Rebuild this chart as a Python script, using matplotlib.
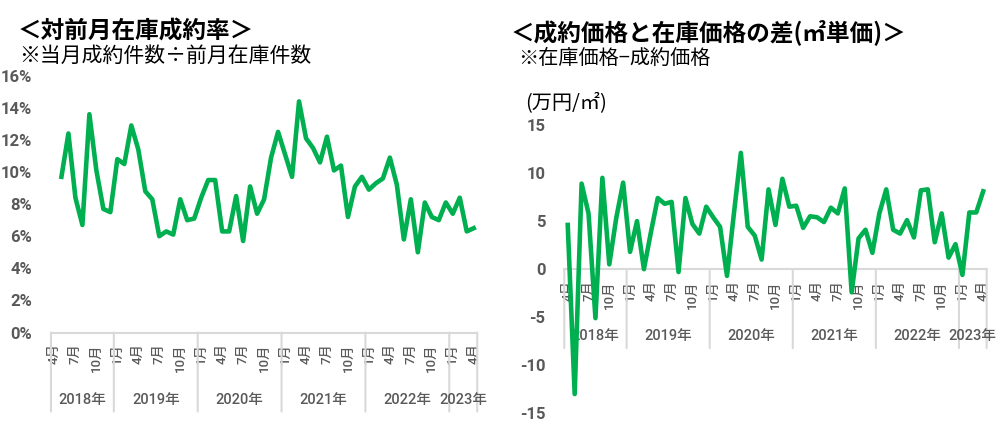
import numpy as np
import matplotlib.pyplot as plt

plt.rcParams['font.family'] = ['Noto Sans CJK JP', 'DejaVu Sans']

# categories: 2018-04 .. 2023-04
year_names = ['2018年', '2019年', '2020年', '2021年', '2022年', '2023年']
year_first_month = [4, 1, 1, 1, 1, 1]
year_months = [9, 12, 12, 12, 12, 4]

# 対前月在庫成約率 (%), 2018-04 has no previous month
ratio = [np.nan,
         9.7, 12.4, 8.4, 6.7, 13.6, 10.1, 7.7, 7.5, 10.8, 10.5,
         12.9, 11.4, 8.8, 8.3, 6.0, 6.3, 6.1, 8.3, 7.0, 7.1,
         8.4, 9.5, 9.5, 6.3, 6.3, 8.5, 5.7, 9.1, 7.4, 8.3,
         10.9, 12.5, 11.1, 9.7, 14.4, 12.1, 11.5, 10.6, 12.2, 10.1,
         10.4, 7.2, 9.1, 9.7, 8.9, 9.3, 9.6, 10.9, 9.2, 5.8,
         8.3, 5.0, 8.1, 7.2, 7.0, 8.1, 7.4, 8.4, 6.3, 6.5]

# 在庫価格 - 成約価格 (万円/㎡)
diff = [4.6, -13.0, 8.9, 5.8, -5.1, 9.5, 0.5, 5.3, 9.0, 1.8,
        5.0, 0.0, 3.8, 7.4, 6.8, 7.0, -0.3, 7.4, 4.7, 3.7,
        6.5, 5.4, 4.4, -0.7, 5.8, 12.1, 4.4, 3.5, 1.0, 8.3,
        4.6, 9.4, 6.5, 6.6, 4.3, 5.5, 5.4, 4.9, 6.4, 5.8,
        8.4, -2.4, 3.2, 4.1, 1.7, 5.8, 8.3, 4.1, 3.7, 5.1,
        3.3, 8.2, 8.3, 2.8, 5.8, 1.2, 2.6, -0.6, 5.9, 5.9,
        8.1]

left_ticks = [0, 2, 4, 6, 8, 10, 12, 14, 16]
left_ticklabels = ['0%', '2%', '4%', '6%', '8%', '10%', '12%', '14%', '16%']
right_ticks = [-15, -10, -5, 0, 5, 10, 15]
right_ticklabels = ['-15', '-10', '-5', '0', '5', '10', '15']

GREEN = '#00B050'
GRAY = '#595959'
AXIS = '#D9D9D9'
NUMFONT = ['Roboto', 'Noto Sans CJK JP', 'DejaVu Sans']

month_labels = []
for first, n in zip(year_first_month, year_months):
    for m in range(first, first + n):
        month_labels.append(f'{m}月')
x = np.arange(len(month_labels))


def category_axis(ax, base):
    ax.axhline(base, color=AXIS, lw=1.5, zorder=1, clip_on=False)
    edges = [-0.5]
    for n in year_months:
        edges.append(edges[-1] + n)
    for e in edges:
        ax.annotate('', xy=(e, base), xytext=(0, -79), textcoords='offset pixels',
                    annotation_clip=False,
                    arrowprops=dict(arrowstyle='-', color=AXIS, lw=1.5,
                                    shrinkA=0, shrinkB=0))
    for k in range(0, len(month_labels), 3):
        ax.annotate(month_labels[k], xy=(k, base), xytext=(0, -11),
                    textcoords='offset pixels', rotation=90, ha='center', va='top',
                    color=GRAY, fontsize=9.5, fontweight='medium', family=NUMFONT,
                    zorder=1, annotation_clip=False)
    for i, name in enumerate(year_names):
        c = (edges[i] + edges[i + 1]) / 2
        ax.annotate(name, xy=(c, base), xytext=(0, -67), textcoords='offset pixels',
                    ha='center', va='center', color=GRAY, fontsize=10.5,
                    fontweight='medium', family=NUMFONT, annotation_clip=False)


def style(ax, ticks, labels, lo, hi):
    ax.set_xlim(-0.5, len(month_labels) - 0.5)
    ax.set_ylim(lo, hi)
    ax.set_xticks([])
    ax.set_yticks(ticks)
    ax.set_yticklabels(labels)
    ax.tick_params(axis='y', length=0, pad=13.5, labelcolor=GRAY, labelsize=12)
    for lbl in ax.get_yticklabels():
        lbl.set_fontfamily(NUMFONT)
        lbl.set_fontweight('bold')
    for s in ax.spines.values():
        s.set_visible(False)
    ax.patch.set_alpha(0)


fig = plt.figure(figsize=(10.03, 4.42), dpi=100)

ax1 = fig.add_axes([0.0508, 0.2477, 0.4250, 0.5810])
style(ax1, left_ticks, left_ticklabels, 0, 16)
category_axis(ax1, 0)
ax1.plot(x, ratio, color=GREEN, lw=3.3, solid_joinstyle='round', zorder=4, clip_on=False)

ax2 = fig.add_axes([0.5626, 0.0649, 0.4211, 0.6523])
style(ax2, right_ticks, right_ticklabels, -15, 15)
category_axis(ax2, 0)
ax2.plot(x, diff, color=GREEN, lw=3.3, solid_joinstyle='round', zorder=4, clip_on=False)

H = 442.0
fig.text(18 / 1003, 1 - 31.5 / H, '＜対前月在庫成約率＞', fontsize=17, fontweight='bold',
         va='center', ha='left')
fig.text(19 / 1003, 1 - 56 / H, '※当月成約件数÷前月在庫件数', fontsize=15,
         va='center', ha='left')
fig.text(511 / 1003, 1 - 32 / H, '＜成約価格と在庫価格の差(㎡単価)＞', fontsize=17,
         fontweight='bold', va='center', ha='left')
fig.text(518 / 1003, 1 - 58 / H, '※在庫価格−成約価格', fontsize=14.5,
         va='center', ha='left')
fig.text(525 / 1003, 1 - 104 / H, '(万円/㎡)', fontsize=14.5, va='center', ha='left')

fig.savefig('out.png', dpi=100)
